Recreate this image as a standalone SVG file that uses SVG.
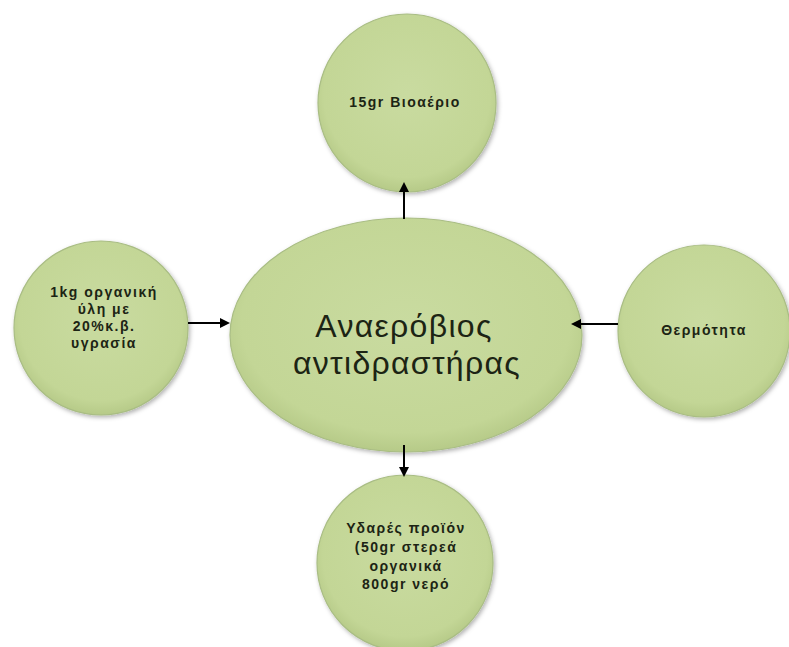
<svg xmlns="http://www.w3.org/2000/svg" width="789" height="647" viewBox="0 0 789 647">
<style>
.node{fill:url(#g);stroke:#a9bd84;stroke-width:1.2;filter:url(#sh)}
.t{font-family:"Liberation Sans","Open Sans","DejaVu Sans",sans-serif;font-weight:bold;font-size:14px;letter-spacing:1.5px;fill:#1c2414;text-anchor:middle}
.big{font-family:"Liberation Sans","Open Sans","DejaVu Sans",sans-serif;font-size:32px;letter-spacing:1.3px;fill:#1c2414;text-anchor:middle}
.c{stroke:#000;stroke-width:2;fill:none;marker-end:url(#ah)}
</style>
<defs>
<radialGradient id="g" cx="50%" cy="45%" r="55%">
<stop offset="0" stop-color="#c9dba0"/>
<stop offset="0.85" stop-color="#c3d696"/>
<stop offset="1" stop-color="#b6ca88"/>
</radialGradient>
<filter id="sh" x="-10%" y="-10%" width="125%" height="125%">
<feDropShadow dx="1.5" dy="2" stdDeviation="2" flood-color="#000" flood-opacity="0.3"/>
</filter>
<marker id="ah" markerWidth="10" markerHeight="10" refX="8" refY="5" orient="auto" markerUnits="userSpaceOnUse">
<path d="M0,0 L10,5 L0,10 Z" fill="#000"/>
</marker>
</defs>
<rect width="789" height="647" fill="#fff"/>
<g id="top">
<circle class="node" cx="407" cy="103" r="89"/>
<text class="t" x="405" y="107">15gr Βιοαέριο</text>
</g>
<g id="left">
<circle class="node" cx="101" cy="328" r="87"/>
<text class="t" x="104" y="297">1kg οργανική</text>
<text class="t" x="104" y="314">ύλη με</text>
<text class="t" x="104" y="331">20%κ.β.</text>
<text class="t" x="104" y="348">υγρασία</text>
</g>
<g id="right">
<circle class="node" cx="704" cy="331" r="86"/>
<text class="t" x="704" y="335">Θερμότητα</text>
</g>
<g id="bottom">
<circle class="node" cx="405" cy="563" r="88"/>
<text class="t" x="406" y="533">Υδαρές προϊόν</text>
<text class="t" x="406" y="552">(50gr στερεά</text>
<text class="t" x="406" y="571">οργανικά</text>
<text class="t" x="406" y="589">800gr νερό</text>
</g>
<g id="center">
<ellipse class="node" cx="406" cy="335" rx="176" ry="117"/>
<text class="big" x="404" y="337">Αναερόβιος</text>
<text class="big" x="407" y="374">αντιδραστήρας</text>
</g>
<g id="connectors">
<line class="c" x1="404" y1="219" x2="404" y2="184"/>
<line class="c" x1="188" y1="323" x2="228" y2="323"/>
<line class="c" x1="618" y1="324" x2="573" y2="324"/>
<line class="c" x1="404" y1="445" x2="404" y2="475"/>
</g>
</svg>
